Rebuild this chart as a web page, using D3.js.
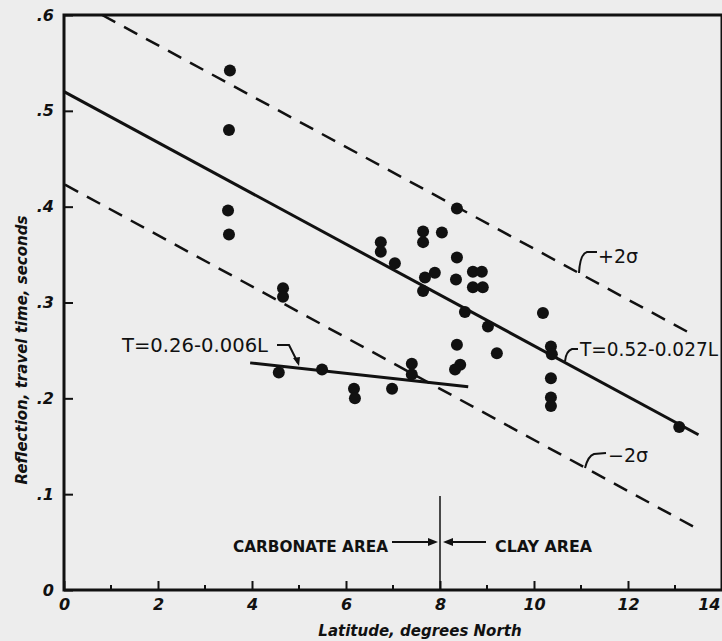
<!DOCTYPE html>
<html>
<head>
<meta charset="utf-8">
<script src="https://cdn.jsdelivr.net/npm/d3@7"></script>
<style>
  body { margin: 0; background: #ededed; }
  svg { display: block; }
  text { fill: #111; }
</style>
</head>
<body>
<svg id="chart" width="722" height="641"></svg>
<script>
// reflection travel time vs latitude
const latitude = [3.53, 3.51, 3.49, 3.51, 4.66, 4.66, 4.57, 5.49, 6.17, 6.19,
    6.74, 6.74, 7.04, 6.98, 7.40, 7.40, 7.64, 7.64, 8.04, 8.36,
    8.36, 7.89, 7.68, 7.64, 8.34, 8.70, 8.89, 8.70, 8.91, 8.53,
    9.02, 10.19, 10.36, 10.38, 8.36, 9.21, 8.43, 8.32, 10.36, 10.36,
    10.36, 13.09];
const travelTime = [0.542, 0.480, 0.396, 0.371, 0.315, 0.306, 0.227, 0.230, 0.210, 0.200,
    0.363, 0.353, 0.341, 0.210, 0.236, 0.225, 0.374, 0.363, 0.373, 0.398,
    0.347, 0.331, 0.326, 0.312, 0.324, 0.332, 0.332, 0.316, 0.316, 0.290,
    0.275, 0.289, 0.254, 0.246, 0.256, 0.247, 0.235, 0.230, 0.221, 0.201,
    0.192, 0.170];

// fitted lines (endpoints as drawn)
const clayFit = [[0, 0.52], [13.5, 0.162]];
const upperSigma = [[0.81, 0.60], [13.32, 0.268]];
const lowerSigma = [[0.02, 0.423], [13.47, 0.064]];
const carbonateFit = [[3.96, 0.237], [8.6, 0.212]];
const boundary = [[8, 0], [8, 0.098]];

const xTicks = [0, 2, 4, 6, 8, 10, 12, 14];
const xMinorTicks = [1, 3, 5, 7, 9, 11, 13];
const yTicks = [0, 0.1, 0.2, 0.3, 0.4, 0.5, 0.6];
const yTickLabels = ["0", ".1", ".2", ".3", ".4", ".5", ".6"];

const ink = "#111";
const svg = d3.select("#chart");

const x = d3.scaleLinear().domain([0, 14]).range([64, 722]);
const y = d3.scaleLinear().domain([0, 0.6]).range([590, 15]);

const line = d3.line().x(d => x(d[0])).y(d => y(d[1]));

// frame
svg.append("rect")
    .attr("x", x(0)).attr("y", y(0.6))
    .attr("width", x(14) - x(0)).attr("height", y(0) - y(0.6))
    .attr("fill", "none").attr("stroke", ink).attr("stroke-width", 3);

// x axis ticks (inside), major + minor
const xAxis = svg.append("g")
    .attr("transform", "translate(0," + y(0) + ")")
    .call(d3.axisBottom(x).tickValues(xTicks).tickSize(-9).tickFormat(d3.format("d")));
xAxis.append("g").selectAll("line")
    .data(xMinorTicks).join("line")
    .attr("x1", d => x(d)).attr("x2", d => x(d))
    .attr("y1", 0).attr("y2", -5)
    .attr("stroke", ink).attr("stroke-width", 2);

const yAxis = svg.append("g")
    .attr("transform", "translate(" + x(0) + ",0)")
    .call(d3.axisLeft(y).tickValues(yTicks).tickSize(-9)
        .tickFormat((d, i) => yTickLabels[i]));

[xAxis, yAxis].forEach(function (g) {
    g.select(".domain").remove();
    g.selectAll(".tick line").attr("stroke", ink).attr("stroke-width", 2);
    g.selectAll(".tick text")
        .attr("fill", ink)
        .style("font-family", "DejaVu Sans")
        .style("font-size", "16px")
        .style("font-style", "italic")
        .style("font-weight", "bold");
});
xAxis.selectAll(".tick text").attr("y", 9);
// last label sits on the page edge, keep it inside
xAxis.selectAll(".tick text").filter(d => d === 14).attr("text-anchor", "end").attr("dx", -2);
yAxis.selectAll(".tick text").attr("x", -10);

// axis titles
svg.append("text")
    .attr("x", 420).attr("y", 636)
    .attr("text-anchor", "middle")
    .style("font-family", "DejaVu Sans").style("font-size", "15px")
    .style("font-style", "italic").style("font-weight", "bold")
    .text("Latitude, degrees North");

svg.append("text")
    .attr("transform", "translate(27,350) rotate(-90)")
    .attr("text-anchor", "middle")
    .style("font-family", "DejaVu Sans").style("font-size", "15px")
    .style("font-style", "italic").style("font-weight", "bold")
    .text("Reflection, travel time, seconds");

// sigma bands
[upperSigma, lowerSigma].forEach(function (seg) {
    svg.append("path")
        .attr("d", line(seg))
        .attr("fill", "none").attr("stroke", ink)
        .attr("stroke-width", 2.5)
        .attr("stroke-dasharray", "15,10");
});

// regression lines
[clayFit, carbonateFit].forEach(function (seg) {
    svg.append("path")
        .attr("d", line(seg))
        .attr("fill", "none").attr("stroke", ink)
        .attr("stroke-width", 3);
});

svg.append("path")
    .attr("d", line(boundary))
    .attr("fill", "none").attr("stroke", ink).attr("stroke-width", 1.5);

// points
svg.append("g").selectAll("circle")
    .data(latitude)
    .join("circle")
    .attr("cx", d => x(d))
    .attr("cy", (d, i) => y(travelTime[i]))
    .attr("r", 6)
    .attr("fill", ink);

// labels + leaders
function label(txt, px, py, width) {
    svg.append("text")
        .attr("x", px).attr("y", py)
        .attr("textLength", width).attr("lengthAdjust", "spacingAndGlyphs")
        .style("font-family", "DejaVu Sans").style("font-size", "19px")
        .text(txt);
}
function leader(d) {
    svg.append("path")
        .attr("d", d)
        .attr("fill", "none").attr("stroke", ink).attr("stroke-width", 2);
}

label("T=0.52-0.027L", 580, 356, 138);
leader("M578,349 L572,349 Q566,351 565," + (y(0.52 - 0.0265 * x.invert(565)) - 1));

label("T=0.26-0.006L", 122, 352, 146);
leader("M277,345 L289,345 L298,363");
svg.append("path").attr("d", "M293,358 L299,366 L300,357 Z").attr("fill", ink);

svg.append("text").attr("x", 598).attr("y", 263)
    .style("font-family", "DejaVu Sans").style("font-size", "19px")
    .text("+2\u03C3");
leader("M597,252 L587,252 Q580,254 579,273");

svg.append("text").attr("x", 608).attr("y", 462)
    .style("font-family", "DejaVu Sans").style("font-size", "19px")
    .text("\u22122\u03C3");
leader("M606,453 L594,454 Q588,456 585,468");

// area arrows below the 8 degree boundary
svg.append("text").attr("x", 233).attr("y", 552)
    .attr("textLength", 155).attr("lengthAdjust", "spacingAndGlyphs")
    .style("font-family", "DejaVu Sans").style("font-size", "16px").style("font-weight", "bold")
    .text("CARBONATE AREA");
svg.append("text").attr("x", 495).attr("y", 552)
    .attr("textLength", 97).attr("lengthAdjust", "spacingAndGlyphs")
    .style("font-family", "DejaVu Sans").style("font-size", "16px").style("font-weight", "bold")
    .text("CLAY AREA");

const ay = 542;
leader("M392," + ay + " L432," + ay);
leader("M448," + ay + " L486," + ay);
svg.append("path").attr("d", "M438," + ay + " L428," + (ay - 4) + " L428," + (ay + 4) + " Z").attr("fill", ink);
svg.append("path").attr("d", "M443," + ay + " L453," + (ay - 4) + " L453," + (ay + 4) + " Z").attr("fill", ink);
</script>
</body>
</html>
